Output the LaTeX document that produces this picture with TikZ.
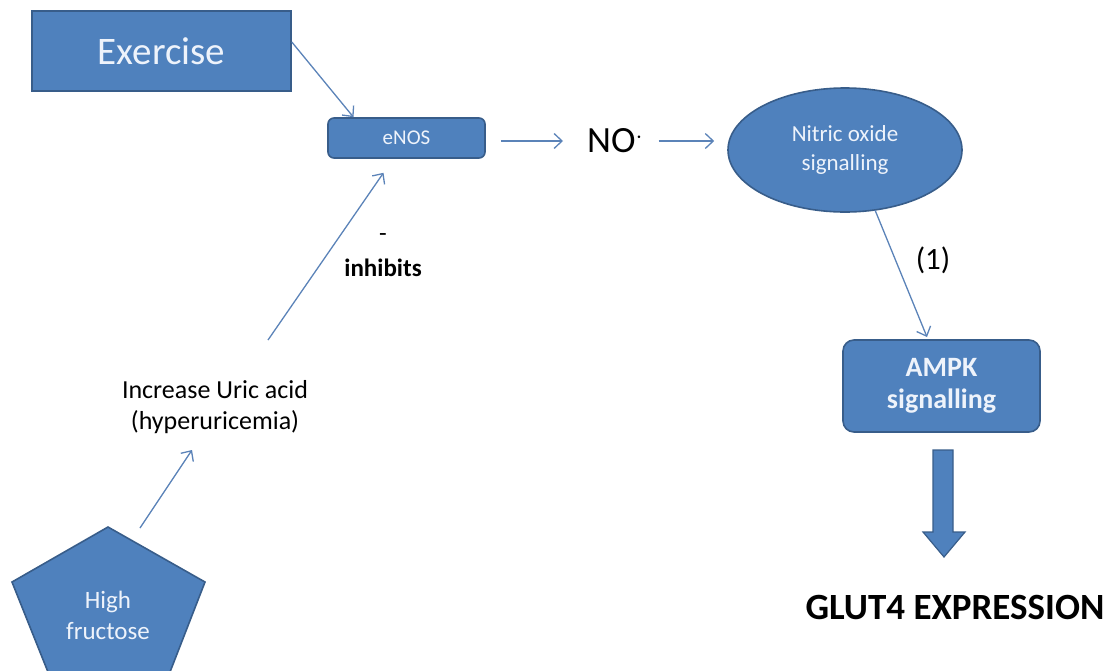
\documentclass[tikz,border=0pt]{standalone}
\usepackage{fontspec}
\setmainfont{Carlito}
\usetikzlibrary{arrows.meta,shapes.geometric}
\definecolor{boxblue}{HTML}{4F81BD}
\definecolor{boxedge}{HTML}{385D8A}
\definecolor{lineblue}{HTML}{5B83B8}
\definecolor{boxtext}{HTML}{EEF3FB}
\tikzset{
  bluebox/.style={draw=boxedge, line width=1.6pt, fill=boxblue, text=boxtext, align=center, inner sep=0pt},
  conn/.style={draw=lineblue, line width=1.3pt, -{Straight Barb[length=8pt,width=15pt,line width=1.3pt]}},
  plain/.style={text=black, align=center, inner sep=0pt},
}
\begin{document}
\begin{tikzpicture}[x=1pt,y=-1pt]
\useasboundingbox (0,0) rectangle (1110,670);
\clip (0,0) rectangle (1110,670);

% Exercise
\node[bluebox, minimum width=259pt, minimum height=80pt, font=\fontsize{39}{44}\selectfont] (ex) at (161.5,51) {Exercise};
% eNOS
\node[bluebox, rounded corners=6pt, minimum width=157pt, minimum height=40pt, font=\fontsize{21}{24}\selectfont] (enos) at (406.5,138) {eNOS};
% NO
\node[plain, font=\fontsize{37}{40}\selectfont, anchor=west] (no) at (587,141) {NO\smash{\raisebox{0.25em}{\fontsize{30}{30}\selectfont$\cdot$}}};
% ellipse
\node[bluebox, ellipse, minimum width=234pt, minimum height=124pt, font=\fontsize{23}{29}\selectfont] (ell) at (845,150) {Nitric oxide\\signalling};
% AMPK
\node[bluebox, rounded corners=11pt, minimum width=197pt, minimum height=92pt, font=\bfseries\fontsize{28}{32}\selectfont] (ampk) at (941.5,386) {AMPK\\signalling};
% GLUT4
\node[plain, font=\bfseries\fontsize{37}{40}\selectfont] (glut) at (955,607) {GLUT4 EXPRESSION};
% Uric acid
\node[plain, font=\fontsize{26}{31}\selectfont] (uric) at (215,407) {Increase Uric acid\\(hyperuricemia)};
% inhibits
\node[plain, font=\fontsize{25}{25}\selectfont] (minus) at (383,238) {-};
\node[plain, font=\bfseries\fontsize{25}{25}\selectfont] (inh) at (383,268) {inhibits};
% (1)
\node[plain, font=\fontsize{31}{34}\selectfont] (one) at (933,260) {(1)};

% pentagon
\draw[draw=boxedge, line width=1.6pt, fill=boxblue] (108,527) -- (205,582) -- (170,672) -- (48,672) -- (12,582) -- cycle;
\node[plain, text=boxtext, font=\fontsize{25}{31}\selectfont] (fru) at (108,615) {High\\fructose};
\coordinate (pentTop) at (140,528);

% block arrow
\draw[draw=boxedge, line width=1.2pt, fill=boxblue] (933,450) -- (953,450) -- (953,532) -- (965,532) -- (944,557) -- (923,532) -- (933,532) -- cycle;
\coordinate (blk) at (944,450);

% connectors
\draw[conn] ([yshift=9pt]ex.east) -- ([xshift=-53pt]enos.north);
\draw[conn] ([xshift=15pt,yshift=-3pt]enos.east) -- ([xshift=-24pt]no.west);
\draw[conn] ([xshift=16pt]no.east) -- ([xshift=-13pt]ell.west |- no.east);
\draw[conn] (875,210) coordinate (s1) -- (927,337) coordinate (e1);
\draw[conn] (268,340) coordinate (s2) -- ([xshift=-23pt,yshift=-14pt]enos.south);
\draw[conn] (pentTop) -- (192,450) coordinate (e3);
\end{tikzpicture}
\end{document}
